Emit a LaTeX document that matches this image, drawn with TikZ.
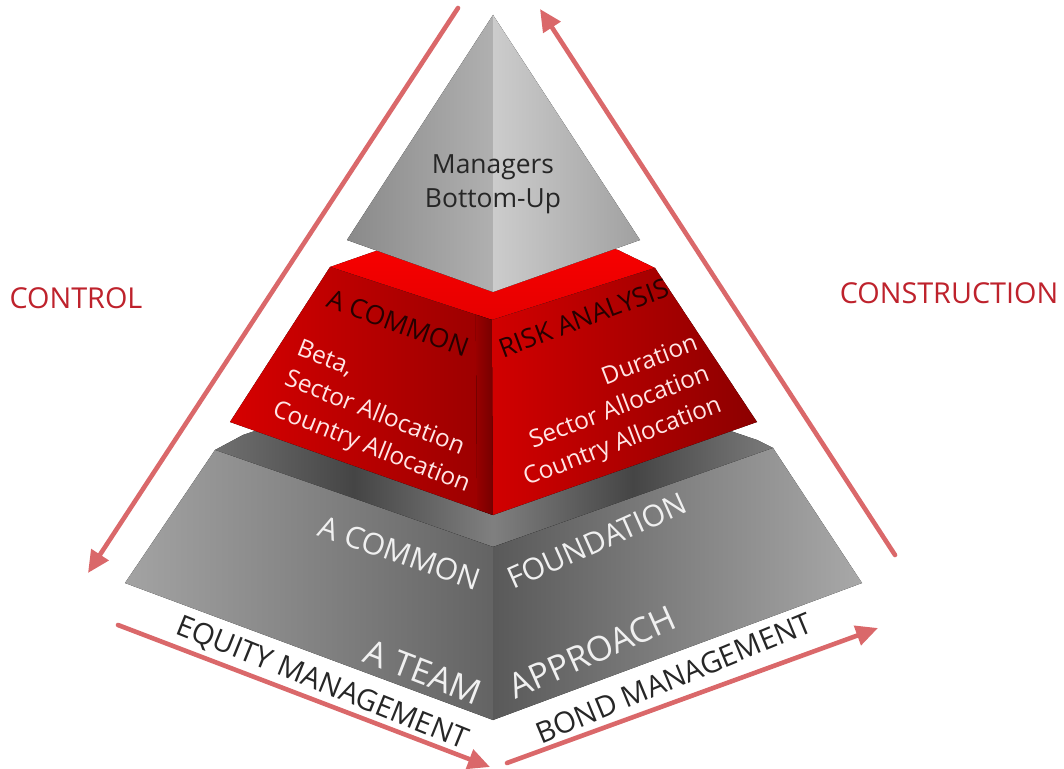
\documentclass[tikz,border=0pt]{standalone}
\usepackage{fontspec}
\setmainfont{Open Sans}
\usepackage{xcolor}
\usepackage{tikz}
\usetikzlibrary{arrows.meta, calc}

\definecolor{arrowred}{RGB}{218,104,106}
\definecolor{labelred}{RGB}{190,34,44}

\begin{document}
\begin{tikzpicture}[x=0.5pt, y=-0.5pt, every node/.style={inner sep=0pt},
  flow/.style={arrowred, line width=2.3pt, line cap=round, -{Triangle[length=11pt, width=10pt]}},
  title/.style={labelred, font=\fontsize{14.4}{17}\selectfont},
  onred/.style={black!85!red, font=\fontsize{13.2}{16}\selectfont},
  list/.style={white!90!red, font=\fontsize{12.2}{16.5}\selectfont},
  ongray/.style={white!94!black, font=\fontsize{15}{18}\selectfont},
  big/.style={white!94!black, font=\fontsize{17.2}{20}\selectfont},
  base/.style={black!85, font=\fontsize{14.6}{18}\selectfont}]

\useasboundingbox (0,0) rectangle (1064,769);

\coordinate (gfl) at (215,450);
\coordinate (gbl) at (243,435);
\coordinate (gbr) at (757,440);
\coordinate (gfr) at (773,448);
\coordinate (gmid) at (493,547);
\coordinate (gl) at (125,583);
\coordinate (gr) at (862,583);
\coordinate (gbot) at (493,720);

\fill[left color=black!56, right color=black!50, middle color=black!73] (gfl) -- (gbl) -- (493,350) -- (gmid) -- cycle;
\fill[left color=black!50, right color=black!52, middle color=black!73] (gmid) -- (493,350) -- (gbr) -- (gfr) -- cycle;
\fill[left color=black!36, right color=black!61] (gfl) -- (gmid) -- (gbot) -- (gl) -- cycle;
\fill[left color=black!65, right color=black!34] (gmid) -- (gfr) -- (gr) -- (gbot) -- cycle;

\coordinate (rfl) at (330,267);
\coordinate (rbl) at (373,252);
\coordinate (rback) at (492,215);
\coordinate (rbr) at (618,250);
\coordinate (rfr) at (655,268);
\coordinate (rmid) at (492,320);
\coordinate (rl) at (230,422);
\coordinate (rr) at (757,422);
\coordinate (rbot) at (493,515);

\fill[top color=red!100, bottom color=red!90!black] (rfl) -- (rbl) -- (rback) -- (rbr) -- (rfr) -- (rmid) -- cycle;
\fill[left color=red!84!black, right color=red!60!black] (rfl) -- (rmid) -- (rbot) -- (rl) -- cycle;
\fill[left color=red!60!black, right color=red!46!black] ($(rfl)!0.9!(rmid)$) -- (rmid) -- (rbot) -- ($(rl)!0.94!(rbot)$) -- cycle;
\fill[left color=red!82!black, right color=red!55!black] (rmid) -- (rfr) -- (rr) -- (rbot) -- cycle;

\coordinate (apex) at (493,15);
\coordinate (pl) at (347,240);
\coordinate (pr) at (640,240);
\coordinate (pf) at (493,292);

\fill[left color=black!46, right color=black!31] (apex) -- (pl) -- (pf) -- cycle;
\fill[left color=black!20, right color=black!37] (apex) -- (pf) -- (pr) -- cycle;

\node (mgr)[align=center, black!85, font=\fontsize{13.2}{17}\selectfont] at ($(apex)!0.61!(pf)$) {Managers\\Bottom-Up};

\node (rc)[onred, rotate=-20] at (398,323) {A COMMON};
\node (ra)[onred, rotate=20.5] at (584,318) {RISK ANALYSIS};
\node (eq)[list, align=left, rotate=-21.5] at (383,418) {Beta,\\Sector Allocation\\Country Allocation};
\node (bd)[list, align=right, rotate=21] at (611,412) {Duration\\Sector Allocation\\Country Allocation};

\node (gc)[ongray, rotate=-19] at (400,553) {A COMMON};
\node (gf)[ongray, rotate=24] at (597,541) {FOUNDATION};
\node (gt)[big, rotate=-21] at (423,672) {A TEAM};
\node (ga)[big, rotate=24] at (592,652) {APPROACH};

\node (ctrl)[title] at (76,298) {CONTROL};
\node (cons)[title] at (949,293) {CONSTRUCTION};
\node (eqm)[base, rotate=-22] at (322,684) {EQUITY MANAGEMENT};
\node (bdm)[base, rotate=22.5] at (674,678) {BOND MANAGEMENT};

\coordinate (c1) at (458,8);
\coordinate (c2) at (88,573);
\coordinate (k1) at (895,555);
\coordinate (k2) at (540,9);
\coordinate (e1) at (118,625);
\coordinate (e2) at (490,767);
\coordinate (b1) at (507,763);
\coordinate (b2) at (878,628);

\draw[flow] (c1) -- (c2);
\draw[flow] (k1) -- (k2);
\draw[flow] (e1) -- (e2);
\draw[flow] (b1) -- (b2);
\end{tikzpicture}
\end{document}
